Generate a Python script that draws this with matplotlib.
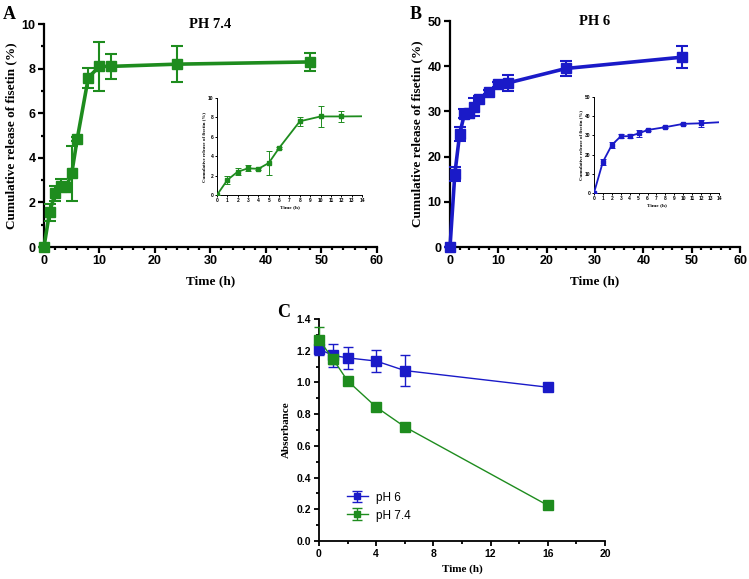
import numpy as np
import matplotlib.pyplot as plt
from matplotlib.ticker import MultipleLocator

# ── Data ──────────────────────────────────────────────────────────────────────
time_rel = [0, 1, 2, 3, 4, 5, 6, 8, 10, 12, 24, 48]

rel_74 = [0, 1.55, 2.4, 2.75, 2.7, 3.3, 4.85, 7.6, 8.1, 8.1, 8.2, 8.3]
err_74 = [0, 0.4, 0.35, 0.3, 0.1, 1.25, 0.1, 0.45, 1.1, 0.55, 0.8, 0.4]

rel_6 = [0, 16.2, 25.0, 29.5, 29.6, 31.0, 32.8, 34.3, 36.0, 36.3, 39.5, 42.0]
err_6 = [0, 1.5, 1.5, 1.0, 1.0, 2.0, 0.5, 0.5, 0.5, 1.8, 1.7, 2.5]

time_abs = [0, 1, 2, 4, 6, 16]
abs_6 = [1.21, 1.17, 1.155, 1.135, 1.075, 0.97]
abs_6_err = [0.04, 0.075, 0.07, 0.07, 0.1, 0.01]
abs_74 = [1.27, 1.145, 1.01, 0.845, 0.72, 0.225]
abs_74_err = [0.08, 0.03, 0.01, 0.025, 0.02, 0.01]

GREEN = '#1e8c1e'
BLUE = '#1a1ac8'

SANS = 'Liberation Sans'
SERIF = 'Liberation Serif'


def style_axes(ax, lw=1.6, tick_size=9, tick_len=4, pad=2):
    for side in ['top', 'right']:
        ax.spines[side].set_visible(False)
    for side in ['left', 'bottom']:
        ax.spines[side].set_linewidth(lw)
    ax.tick_params(which='major', width=lw, length=tick_len, labelsize=tick_size, pad=pad)
    ax.tick_params(which='minor', width=lw, length=tick_len * 0.6)
    for lab in ax.get_xticklabels() + ax.get_yticklabels():
        lab.set_fontfamily(SANS)
        lab.set_fontweight('bold')


def release_panel(ax, t, y, e, colour, ymax, ystep, yminor, title):
    ax.errorbar(t, y, yerr=e, color=colour, lw=2.6, marker='s', ms=7.5,
                capsize=4, elinewidth=1.5, capthick=1.5, clip_on=False, zorder=3)
    ax.set_xlim(0, 60)
    ax.set_ylim(0, ymax)
    ax.xaxis.set_major_locator(MultipleLocator(10))
    ax.xaxis.set_minor_locator(MultipleLocator(2))
    ax.yaxis.set_major_locator(MultipleLocator(ystep))
    if yminor:
        ax.yaxis.set_minor_locator(MultipleLocator(yminor))
    style_axes(ax)
    ax.set_xlabel('Time (h)', fontfamily=SERIF, fontweight='bold', fontsize=9.5,
                  labelpad=6)
    ax.set_ylabel('Cumulative release of fisetin (%)', fontfamily=SERIF,
                  fontweight='bold', fontsize=9.5, labelpad=3)
    ax.set_title(title, fontfamily=SERIF, fontweight='bold', fontsize=10.5, y=0.945)


def inset_panel(ax, t, y, e, colour, ymax, ystep):
    ax.errorbar(t, y, yerr=e, color=colour, lw=1.3, marker='s', ms=3.2,
                capsize=2, elinewidth=0.7, capthick=0.7, zorder=3)
    ax.set_xlim(0, 14)
    ax.set_ylim(0, ymax)
    ax.xaxis.set_major_locator(MultipleLocator(1))
    ax.yaxis.set_major_locator(MultipleLocator(ystep))
    style_axes(ax, lw=0.7, tick_size=3.5, tick_len=1.5, pad=1)
    ax.set_xlabel('Time (h)', fontfamily=SERIF, fontweight='bold', fontsize=3.8, labelpad=1.5)
    ax.set_ylabel('Cumulative release of fisetin (%)', fontfamily=SERIF,
                  fontweight='bold', fontsize=3.6, labelpad=1.5)


fig = plt.figure(figsize=(7.49, 5.79), dpi=100)

# ── Panel A ───────────────────────────────────────────────────────────────────
ax_a = fig.add_axes([0.0587, 0.5734, 0.4443, 0.3851])
release_panel(ax_a, time_rel, rel_74, err_74, GREEN, 10, 2, 1, 'PH 7.4')
ins_a = fig.add_axes([0.2897, 0.6632, 0.1936, 0.1675])
inset_panel(ins_a, time_rel, rel_74, err_74, GREEN, 10, 2)

# ── Panel B ───────────────────────────────────────────────────────────────────
ax_b = fig.add_axes([0.6008, 0.5734, 0.3872, 0.3903])
release_panel(ax_b, time_rel, rel_6, err_6, BLUE, 50, 10, None, 'PH 6')
ins_b = fig.add_axes([0.7930, 0.6667, 0.1669, 0.1658])
inset_panel(ins_b, time_rel, rel_6, err_6, BLUE, 50, 10)

# ── Panel C ───────────────────────────────────────────────────────────────────
ax_c = fig.add_axes([0.4259, 0.0656, 0.3818, 0.3834])
ax_c.errorbar(time_abs, abs_6, yerr=abs_6_err, color=BLUE, lw=1.0, marker='s',
              ms=6.5, capsize=3.5, elinewidth=1.0, capthick=1.0, label='pH 6',
              clip_on=False, zorder=3)
ax_c.errorbar(time_abs, abs_74, yerr=abs_74_err, color=GREEN, lw=1.0, marker='s',
              ms=6.5, capsize=3.5, elinewidth=1.0, capthick=1.0, label='pH 7.4',
              clip_on=False, zorder=3)
ax_c.set_xlim(0, 20)
ax_c.set_ylim(0, 1.4)
ax_c.xaxis.set_major_locator(MultipleLocator(4))
ax_c.xaxis.set_minor_locator(MultipleLocator(2))
ax_c.yaxis.set_major_locator(MultipleLocator(0.2))
ax_c.yaxis.set_minor_locator(MultipleLocator(0.1))
style_axes(ax_c, lw=1.3, tick_size=7.5, tick_len=3.5)
ax_c.set_xlabel('Time (h)', fontfamily=SERIF, fontweight='bold', fontsize=8, labelpad=4)
ax_c.set_ylabel('Absorbance', fontfamily=SERIF, fontweight='bold', fontsize=8, labelpad=4)
leg = ax_c.legend(loc='lower left', bbox_to_anchor=(0.06, 0.04), frameon=False,
                  prop={'family': SANS, 'size': 8.5}, handlelength=1.8,
                  labelspacing=0.5, markerscale=0.75, handletextpad=0.7)

# ── Panel letters ─────────────────────────────────────────────────────────────
for label, x, y in [('A', 0.004, 0.99), ('B', 0.547, 0.99), ('C', 0.37, 0.475)]:
    fig.text(x, y, label, fontfamily=SERIF, fontweight='bold', fontsize=13,
             ha='left', va='top')

fig.savefig('out.png', dpi=100)
